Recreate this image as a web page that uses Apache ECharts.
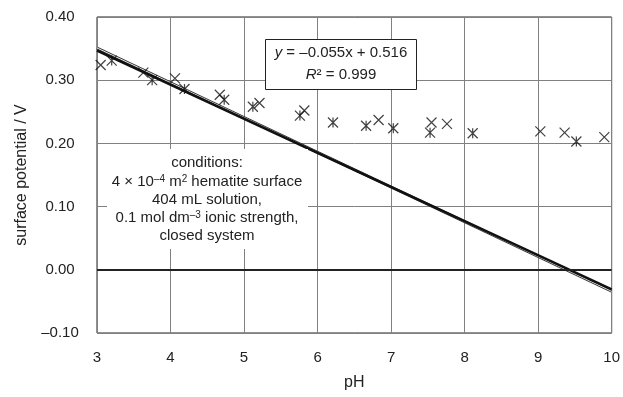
<!DOCTYPE html>
<html>
<head>
<meta charset="utf-8">
<script src="https://cdn.jsdelivr.net/npm/echarts@6/dist/echarts.min.js"></script>
<style>
  html, body { margin: 0; padding: 0; background: #fff; }
  #chart { width: 623px; height: 397px; }
</style>
</head>
<body>
<div id="chart"></div>
<script>
// Surface potential of hematite versus pH

// measured points, first set (× markers)
const phCross  = [3.05, 3.63, 4.06, 4.67, 5.21, 5.82, 6.83, 7.55, 7.76, 9.03, 9.36, 9.90];
const potCross = [0.324, 0.312, 0.303, 0.277, 0.264, 0.252, 0.237, 0.233, 0.231, 0.219, 0.217, 0.210];

// measured points, second set (* markers)
const phStar  = [3.20, 3.75, 4.19, 4.73, 5.12, 5.76, 6.21, 6.66, 7.03, 7.53, 8.11, 9.52];
const potStar = [0.331, 0.300, 0.286, 0.269, 0.258, 0.244, 0.233, 0.228, 0.224, 0.217, 0.216, 0.203];

// model line
const phModel  = [3, 10];
const potModel = [0.347, -0.031];

// linear trendline, as given by its equation
const trendSlope = -0.055;
const trendIntercept = 0.516;
const trendPH = [3, 10];

// axis ticks
const xTicks = [3, 4, 5, 6, 7, 8, 9, 10];
const yTicks = [-0.10, 0.00, 0.10, 0.20, 0.30, 0.40];

const FONT = "'Liberation Sans', Arial, sans-serif";

const zip = (xs, ys) => xs.map((x, i) => [x, ys[i]]);
const trendData = trendPH.map(x => [x, trendSlope * x + trendIntercept]);

const crossPath = 'path://M0,0L10,10M0,10L10,0';
const starPath = 'path://M0,0L10,10M0,10L10,0M5,0L5,10';

const fmtY = v => (v < 0 ? '\u2013' : '') + Math.abs(v).toFixed(2);

const chart = echarts.init(document.getElementById('chart'), null, { renderer: 'canvas' });

const textStyleBase = { fontFamily: FONT, fontSize: 15, fill: '#222' };
const supStyle = { fontFamily: FONT, fontSize: 10, verticalAlign: 'top', lineHeight: 10, fill: '#222' };

function centeredLine(text, x, y, rich) {
  return {
    type: 'text', x: x, y: y, z: 101,
    style: Object.assign({}, textStyleBase, {
      text: text, align: 'center', verticalAlign: 'middle',
      rich: rich || {}
    })
  };
}

const richMain = { fontFamily: FONT, fontSize: 15, fill: '#222', lineHeight: 18 };

chart.setOption({
  animation: false,
  backgroundColor: '#fff',
  grid: {
    left: 97, right: 9, top: 17, bottom: 64,
    show: true, borderColor: '#222', borderWidth: 1, backgroundColor: 'transparent'
  },
  xAxis: {
    type: 'value', min: xTicks[0], max: xTicks[xTicks.length - 1], interval: 1,
    name: 'pH', nameLocation: 'middle', nameGap: 42,
    nameTextStyle: { fontFamily: FONT, fontSize: 16, color: '#222' },
    axisLine: { show: false }, axisTick: { show: false },
    axisLabel: { fontFamily: FONT, fontSize: 15, color: '#222', margin: 17 },
    splitLine: { show: true, lineStyle: { color: '#808080', width: 1 } }
  },
  yAxis: {
    type: 'value', min: yTicks[0], max: yTicks[yTicks.length - 1], interval: 0.1,
    name: 'surface potential / V', nameLocation: 'middle', nameGap: 67,
    nameTextStyle: { fontFamily: FONT, fontSize: 16, color: '#222' },
    axisLine: { show: false }, axisTick: { show: false },
    axisLabel: { fontFamily: FONT, fontSize: 15, color: '#222', margin: 37, align: 'center', formatter: fmtY },
    splitLine: { show: true, lineStyle: { color: '#808080', width: 1 } }
  },
  series: [
    {
      // trendline outer stroke
      type: 'line', data: trendData, symbol: 'none', silent: true,
      lineStyle: { color: '#333', width: 2.6 }, z: 3,
      markLine: {
        silent: true, symbol: 'none', label: { show: false },
        lineStyle: { color: '#222', width: 2, type: 'solid' },
        data: [{ yAxis: 0 }]
      }
    },
    {
      // trendline inner highlight
      type: 'line', data: trendData, symbol: 'none', silent: true,
      lineStyle: { color: '#fff', width: 0.9 }, z: 3
    },
    {
      type: 'line', data: zip(phModel, potModel), symbol: 'none', silent: true,
      lineStyle: { color: '#111', width: 2.5 }, z: 4
    },
    {
      type: 'scatter', data: zip(phCross, potCross), symbol: crossPath, symbolSize: 10,
      itemStyle: { color: 'rgba(0,0,0,0)', borderColor: '#111', borderWidth: 1.2 }, z: 5
    },
    {
      type: 'scatter', data: zip(phStar, potStar), symbol: starPath, symbolSize: 10,
      itemStyle: { color: 'rgba(0,0,0,0)', borderColor: '#111', borderWidth: 1.2 }, z: 5
    }
  ],
  graphic: [
    // equation box
    {
      type: 'rect', z: 100,
      shape: { x: 265.5, y: 39.5, width: 151, height: 50 },
      style: { fill: '#fff', stroke: '#222', lineWidth: 1 }
    },
    centeredLine('{i|y} = \u20130.055x + 0.516', 341, 53, { i: Object.assign({}, richMain, { fontStyle: 'italic' }) }),
    centeredLine('{i|R}\u00b2 = 0.999', 341, 75, { i: Object.assign({}, richMain, { fontStyle: 'italic' }) }),
    // conditions box
    {
      type: 'rect', z: 100,
      shape: { x: 107, y: 149, width: 201, height: 100 },
      style: { fill: '#fff', stroke: null }
    },
    centeredLine('conditions:', 207, 163),
    centeredLine('4 \u00d7 10{s|\u20134} m{s|2} hematite surface', 207, 182, { s: supStyle }),
    centeredLine('404 mL solution,', 207, 200),
    centeredLine('0.1 mol dm{s|\u20133} ionic strength,', 207, 218, { s: supStyle }),
    centeredLine('closed system', 207, 236)
  ]
});
</script>
</body>
</html>
